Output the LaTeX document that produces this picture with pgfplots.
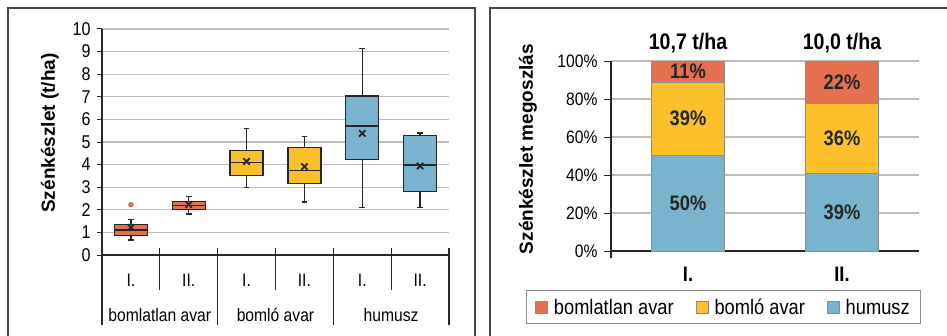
\documentclass[border=0pt]{standalone}
\usepackage{pgfplots}
\pgfplotsset{compat=1.18}
\usepgfplotslibrary{statistics}
\usepackage{fontspec}
\setmainfont{Liberation Sans}[FakeStretch=0.87]
\newfontfamily\labfont{Liberation Sans}
\definecolor{corange}{HTML}{E5704F}
\definecolor{cyellow}{HTML}{FBC02A}
\definecolor{cblue}{HTML}{7AB3CD}
\definecolor{framec}{HTML}{454545}
\definecolor{gridc}{HTML}{BDBDBD}
\definecolor{boxline}{HTML}{262626}
\definecolor{barline}{HTML}{8C8C8C}
\newcommand{\fs}[1]{\fontsize{#1}{#1}\selectfont}
\pgfplotsset{boxplot/draw direction=y}
\begin{document}
\begin{tikzpicture}[x=1pt,y=1pt]
\path[use as bounding box] (0,0) rectangle (947,335);
\draw[framec, line width=1.3pt] (8,-5) -- (8,327) -- (475,327) -- (475,-5);
\draw[framec, line width=1.3pt] (490,-5) -- (490,327) -- (952,327);

% ---------------- left: boxplots
\begin{axis}[
  at={(102pt,80pt)}, anchor=south west,
  width=347pt, height=226pt, scale only axis,
  xmin=-0.5, xmax=5.5, ymin=0, ymax=10,
  axis x line*=bottom, axis y line*=left,
  axis line style={boxline, line width=1.2pt},
  ytick={0,1,...,10}, ymajorgrids,
  major grid style={gridc, line width=1.1pt},
  tick align=outside, major tick length=5pt,
  tick style={boxline, line width=1pt},
  /pgf/number format/assume math mode=true,
  xtick={0,1,...,5}, xticklabels={I.,II.,I.,II.,I.,II.},
  xtick style={draw=none},
  tick label style={font=\fs{18.5}},
  yticklabel style={xshift=-3pt},
  xticklabel style={font=\fs{18}, yshift=-11pt},
  ylabel={\labfont\bfseries Szénkészlet (t/ha)},
  ylabel style={font=\fs{19}, at={(axis description cs:-0.15,0.54)}, anchor=center},
  clip=false,
]
\addplot[boxplot prepared={draw position=0, lower whisker=0.66, lower quartile=0.87, median=1.11, upper quartile=1.34, upper whisker=1.58, box extend=0.57, whisker extend=0.1}, fill=corange, draw=boxline, line width=1.3pt] coordinates {};
\addplot[boxplot prepared={draw position=1, lower whisker=1.81, lower quartile=2.02, median=2.18, upper quartile=2.37, upper whisker=2.58, box extend=0.57, whisker extend=0.1}, fill=corange, draw=boxline, line width=1.3pt] coordinates {};
\addplot[boxplot prepared={draw position=2, lower whisker=2.99, lower quartile=3.53, median=4.09, upper quartile=4.62, upper whisker=5.60, box extend=0.57, whisker extend=0.1}, fill=cyellow, draw=boxline, line width=1.3pt] coordinates {};
\addplot[boxplot prepared={draw position=3, lower whisker=2.35, lower quartile=3.16, median=3.73, upper quartile=4.76, upper whisker=5.24, box extend=0.57, whisker extend=0.1}, fill=cyellow, draw=boxline, line width=1.3pt] coordinates {};
\addplot[boxplot prepared={draw position=4, lower whisker=2.11, lower quartile=4.23, median=5.71, upper quartile=7.04, upper whisker=9.13, box extend=0.57, whisker extend=0.1}, fill=cblue, draw=boxline, line width=1.3pt] coordinates {};
\addplot[boxplot prepared={draw position=5, lower whisker=2.11, lower quartile=2.82, median=3.98, upper quartile=5.29, upper whisker=5.40, box extend=0.57, whisker extend=0.1}, fill=cblue, draw=boxline, line width=1.3pt] coordinates {};
% means
\addplot[only marks, mark=x, mark size=4.5pt, mark options={line width=1.8pt}, color=boxline]
  coordinates {(0,1.22) (1,2.23) (2,4.14) (3,3.91) (4,5.38) (5,3.94)};
% outlier
\addplot[only marks, mark=*, mark size=2.6pt, color=corange]
  coordinates {(0,2.23)};
% category separators
\draw[boxline, line width=1.2pt] ([yshift=7pt]axis cs:0.5,0) -- ([yshift=-35pt]axis cs:0.5,0);
\draw[boxline, line width=1.2pt] ([yshift=7pt]axis cs:2.5,0) -- ([yshift=-35pt]axis cs:2.5,0);
\draw[boxline, line width=1.2pt] ([yshift=7pt]axis cs:4.5,0) -- ([yshift=-35pt]axis cs:4.5,0);
\draw[boxline, line width=1.2pt] (axis cs:-0.5,0) -- ([yshift=-70pt]axis cs:-0.5,0);
\draw[boxline, line width=1.2pt] ([yshift=7pt]axis cs:1.5,0) -- ([yshift=-70pt]axis cs:1.5,0);
\draw[boxline, line width=1.2pt] ([yshift=7pt]axis cs:3.5,0) -- ([yshift=-70pt]axis cs:3.5,0);
\draw[boxline, line width=1.2pt] ([yshift=7pt]axis cs:5.5,0) -- ([yshift=-70pt]axis cs:5.5,0);
\node[font=\fs{18}] at (axis cs:0.5,0) [yshift=-60pt] {bomlatlan avar};
\node[font=\fs{18}] at (axis cs:2.5,0) [yshift=-60pt] {bomló avar};
\node[font=\fs{18}] at (axis cs:4.5,0) [yshift=-60pt] {humusz};
\end{axis}

% ---------------- right: stacked percentages
\begin{axis}[
  at={(611pt,84pt)}, anchor=south west,
  width=308pt, height=190pt, scale only axis,
  ybar stacked, bar width=73.5pt,
  xmin=0.5, xmax=2.5, ymin=0, ymax=100,
  axis x line*=bottom, axis y line*=left,
  axis line style={boxline, line width=1.2pt},
  ytick={0,20,...,100},
  /pgf/number format/assume math mode=true,
  yticklabel={\pgfmathprintnumber{\tick}\%},
  ymajorgrids, major grid style={gridc, line width=1.1pt},
  tick align=outside, major tick length=7pt,
  tick style={boxline, line width=1pt},
  xtick={1,2}, xticklabels={I.,II.}, xtick style={draw=none},
  tick label style={font=\fs{18}},
  yticklabel style={xshift=-3pt},
  xticklabel style={font=\fs{21}\bfseries, yshift=-6pt},
  ylabel={\labfont\bfseries Szénkészlet megoszlás},
  ylabel style={font=\fs{19}, at={(axis description cs:-0.27,0.537)}, anchor=center},
  point meta=explicit symbolic,
  nodes near coords={\pgfplotspointmeta\%},
  every node near coord/.append style={font=\fs{21}\bfseries, text=black!85, anchor=center},
  legend columns=3, reverse legend,
  legend style={at={(0.365,-0.297)}, anchor=center, draw=barline, line width=1pt,
    font=\fs{21}, inner xsep=9pt, inner ysep=6pt,
    /tikz/every odd column/.append style={column sep=4pt},
    /tikz/every even column/.append style={column sep=20pt}},
  legend image code/.code={\draw[#1, draw=barline, line width=0.8pt] (0pt,-6pt) rectangle (12pt,6pt);},
  clip=false,
]
\addplot[fill=cblue, draw=barline, line width=0.8pt] coordinates {(1,50.3) [50] (2,40.6) [39]};
\addlegendentry{humusz}
\addplot[fill=cyellow, draw=barline, line width=0.8pt] coordinates {(1,38.7) [39] (2,37.0) [36]};
\addlegendentry{bomló avar}
\addplot[fill=corange, draw=barline, line width=0.8pt] coordinates {(1,11.0) [11] (2,22.4) [22]};
\addlegendentry{bomlatlan avar}
\draw[boxline, line width=1.2pt] (axis cs:0.5,0) -- ([yshift=-7pt]axis cs:0.5,0);
\node[font=\fs{22.5}\bfseries] at (axis cs:1,100) [yshift=18pt] {10,7 t/ha};
\node[font=\fs{22.5}\bfseries] at (axis cs:2,100) [yshift=18pt] {10,0 t/ha};
\end{axis}
\end{tikzpicture}
\end{document}
